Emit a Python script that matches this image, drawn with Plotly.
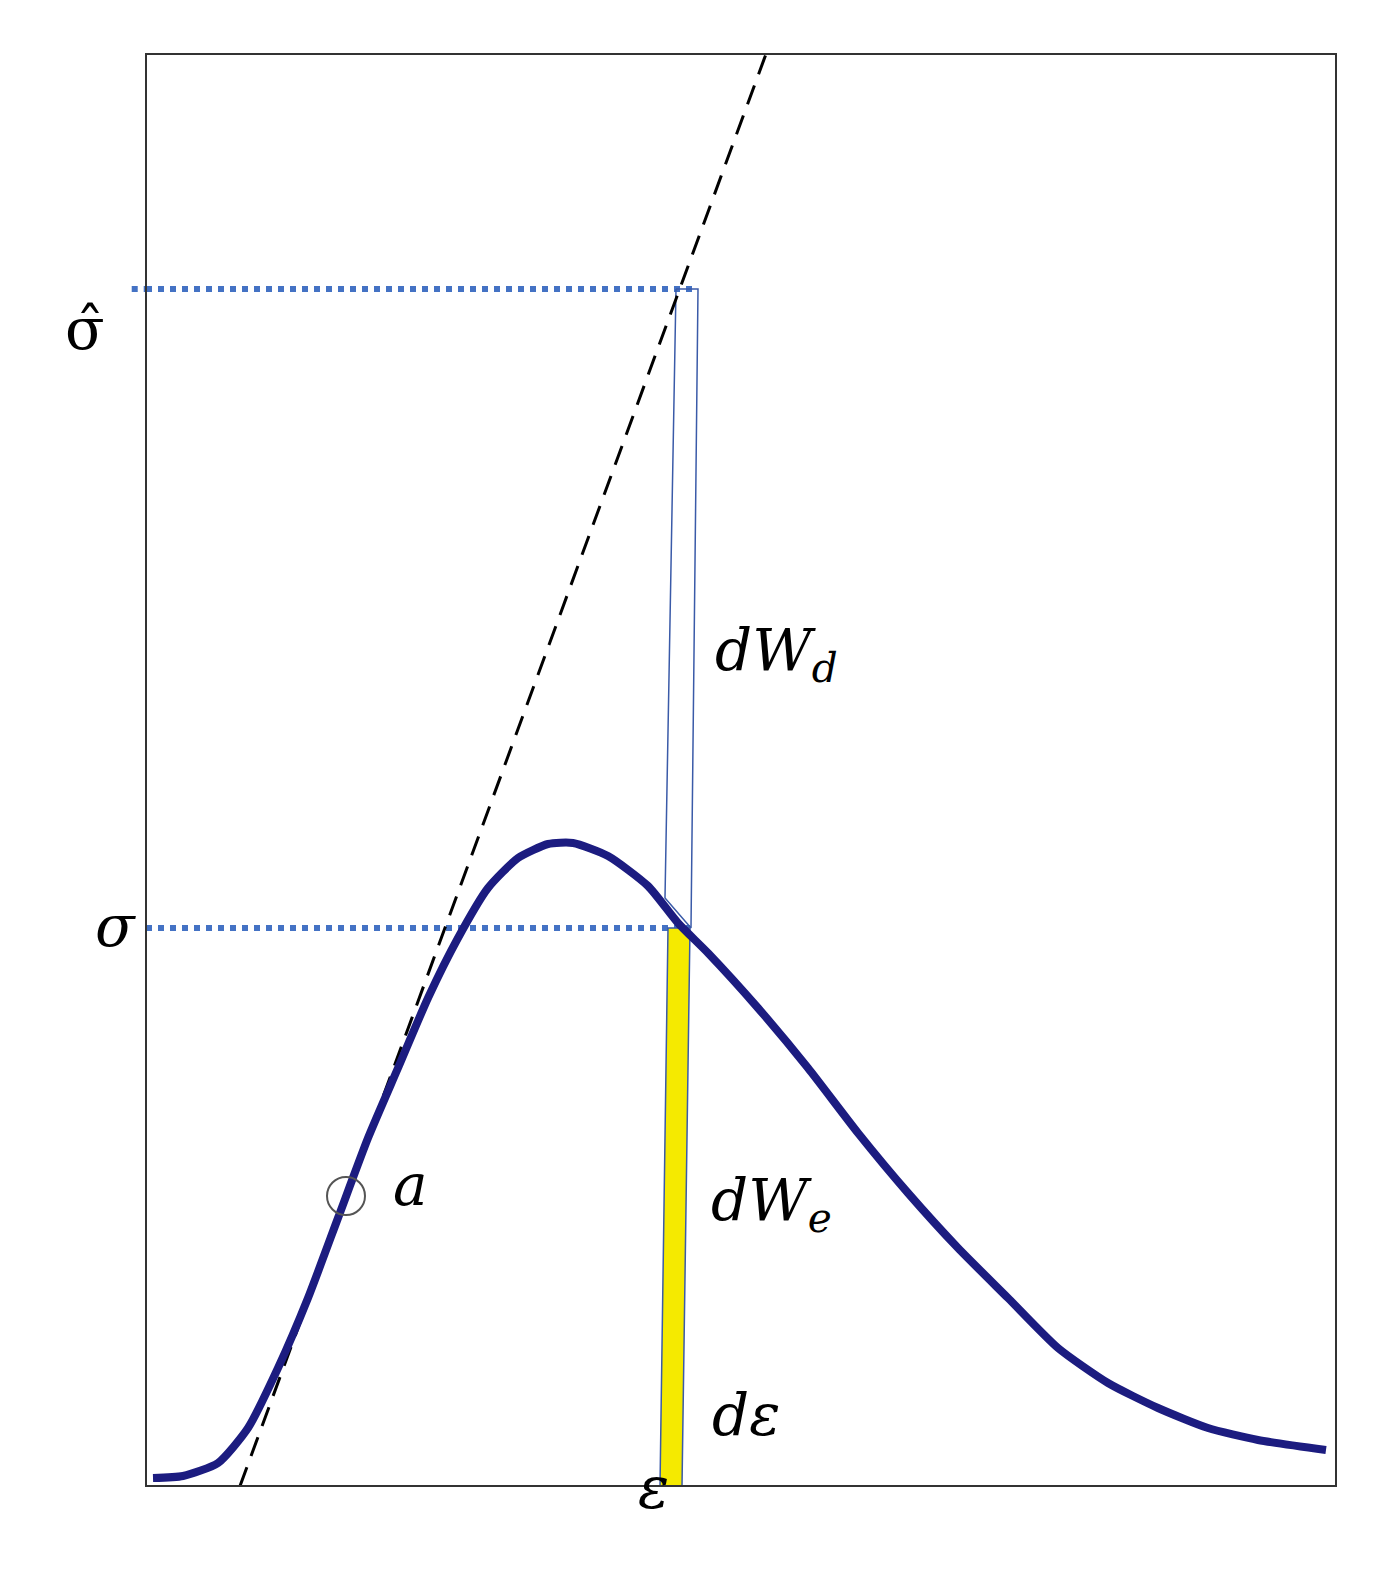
import plotly.graph_objects as go

# coordinates in chart units (0..1190 wide, 0..1432 tall)
curve_x = [7, 37, 72, 102, 132, 162, 192, 222, 252, 282, 312, 342, 372, 402, 427, 462, 502, 532, 562, 612, 662, 712, 762, 812, 862, 912, 962, 1012, 1062, 1112, 1180]
curve_y = [8, 10, 23, 58, 118, 188, 268, 348, 418, 488, 548, 598, 628, 642, 643, 630, 600, 563, 533, 478, 418, 353, 293, 238, 188, 138, 103, 78, 58, 46, 36]

tangent_x = [94, 620]
tangent_y = [0, 1432]

sigma_hat = 1197
sigma = 558

dwd_x = [530, 552, 545, 519, 530]
dwd_y = [sigma_hat, sigma_hat, sigma, 588, sigma_hat]
dwe_x = [514, 536, 544, 522, 514]
dwe_y = [0, 0, sigma, sigma, 0]

point_a = (200, 290)

fig = go.Figure()
fig.add_trace(go.Scatter(x=[0, 552], y=[sigma_hat, sigma_hat], mode="lines",
                         line=dict(color="#4472c4", width=6, dash="dot")))
fig.add_trace(go.Scatter(x=[0, 544], y=[sigma, sigma], mode="lines",
                         line=dict(color="#4472c4", width=6, dash="dot")))
fig.add_trace(go.Scatter(x=dwe_x, y=dwe_y, mode="lines", fill="toself",
                         fillcolor="#f5ea00", line=dict(color="#3a5aa8", width=1.5)))
fig.add_trace(go.Scatter(x=dwd_x, y=dwd_y, mode="lines",
                         line=dict(color="#3a5aa8", width=1.5)))
fig.add_trace(go.Scatter(x=tangent_x, y=tangent_y, mode="lines",
                         line=dict(color="black", width=3, dash="20px,12px")))
fig.add_trace(go.Scatter(x=curve_x, y=curve_y, mode="lines",
                         line=dict(color="#1c1c80", width=8, shape="spline", smoothing=0.6)))
fig.add_trace(go.Scatter(x=[point_a[0]], y=[point_a[1]], mode="markers",
                         marker=dict(symbol="circle-open", size=38, color="#555", line=dict(width=2))))
# dotted stub left of the frame for sigma-hat
fig.add_shape(type="line", xref="paper", yref="y", x0=-0.012, x1=0, y0=sigma_hat, y1=sigma_hat,
              line=dict(color="#4472c4", width=6, dash="dot"))

font = dict(family="DejaVu Serif", size=58, color="black")
labels = [
    (245, 265, "<i>a</i>"),
    (630, 832, "<i>dW<sub>d</sub></i>"),
    (625, 242, "<i>dW<sub>e</sub></i>"),
    (600, 35, "<i>dε</i>"),
    (507, -38, "<i>ε</i>"),
    (-83, 1193, "σ̂"),
    (-53, 560, "<i>σ</i>"),
]
for x, y, t in labels:
    fig.add_annotation(x=x / 1190, y=y / 1432, xref="paper", yref="paper",
                       text=t, showarrow=False, font=font)

fig.update_xaxes(range=[0, 1190], visible=False)
fig.update_yaxes(range=[0, 1432], visible=False)
fig.add_shape(type="rect", xref="paper", yref="paper", x0=0, y0=0, x1=1, y1=1,
              line=dict(color="#333", width=2))
fig.update_layout(width=1374, height=1571, showlegend=False,
                  plot_bgcolor="white", paper_bgcolor="white",
                  margin=dict(l=138, r=46, t=46, b=93))
fig.write_html("out.html")
